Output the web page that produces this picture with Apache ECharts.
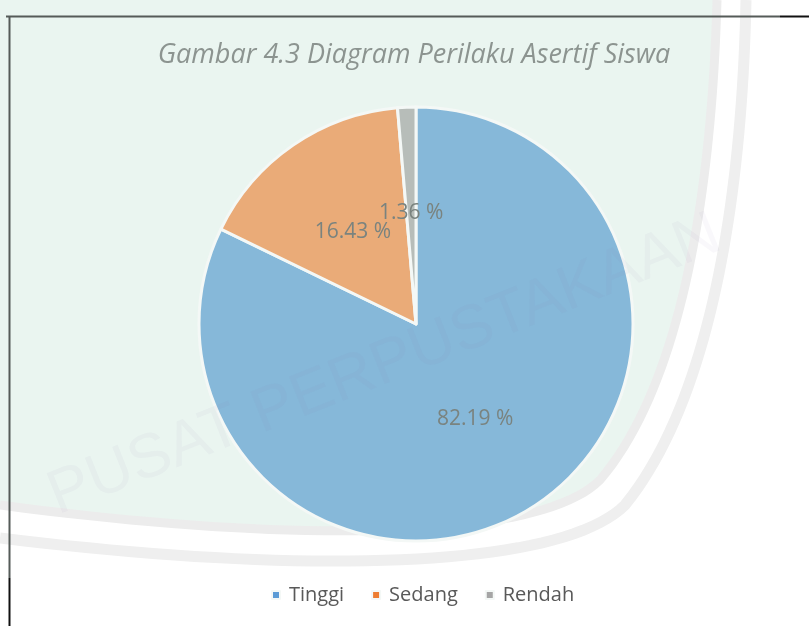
<!DOCTYPE html>
<html>
<head>
<meta charset="utf-8">
<script src="https://cdn.jsdelivr.net/npm/echarts@6/dist/echarts.min.js"></script>
<style>html,body{margin:0;padding:0;background:#fff;}#c{width:809px;height:626px;}</style>
</head>
<body>
<div id="c"></div>
<script>
const categories = ['Tinggi', 'Sedang', 'Rendah'];
const values = [82.19, 16.43, 1.36];
const colors = ['#86b8d9', '#eaab78', '#b7bdb9'];
const legendColors = ['#5b9bd5', '#ed7d31', '#a5a5a5'];
const titleText = 'Gambar 4.3 Diagram Perilaku Asertif Siswa';

// watermark background shape helpers
function cubic(p0, p1, p2, p3, n) {
  const pts = [];
  for (let i = 0; i <= n; i++) {
    const t = i / n, u = 1 - t;
    pts.push([
      u*u*u*p0[0] + 3*u*u*t*p1[0] + 3*u*t*t*p2[0] + t*t*t*p3[0],
      u*u*u*p0[1] + 3*u*u*t*p1[1] + 3*u*t*t*p2[1] + t*t*t*p3[1]
    ]);
  }
  return pts;
}
function curve(a) {
  return cubic(a[0], a[1], a[2], a[3], 40).concat(cubic(a[3], a[4], a[5], a[6], 40).slice(1));
}
const innerEdge = curve([[717,0],[712,180],[685,380],[600,480],[540,540],[300,545],[0,505]]);
const outerEdge = curve([[746,0],[742,200],[710,400],[625,505],[560,570],[300,575],[0,538]]);

const chart = echarts.init(document.getElementById('c'), null, {renderer: 'canvas'});
chart.setOption({
  backgroundColor: '#ffffff',
  animation: false,
  title: {
    text: titleText,
    left: 409, top: 37, textAlign: 'center',
    textStyle: {fontFamily: 'Open Sans', fontStyle: 'italic', fontWeight: 'normal', fontSize: 27, color: '#8c9490'}
  },
  legend: {
    top: 580, left: 266,
    icon: 'rect', itemWidth: 8, itemHeight: 8, itemGap: 27,
    textStyle: {fontFamily: 'Open Sans', fontSize: 20, color: '#595959', padding: [0,0,0,4]},
    data: categories.map((c, i) => ({name: c, itemStyle: {color: legendColors[i]}}))
  },
  graphic: [
    {type: 'polygon', z: -10, silent: true,
     shape: {points: [[0,0]].concat(innerEdge)},
     style: {fill: '#eaf5f0'}},
    {type: 'polyline', z: -9, silent: true,
     shape: {points: innerEdge},
     style: {fill: null, stroke: '#ececec', lineWidth: 9}},
    {type: 'polyline', z: -9, silent: true,
     shape: {points: outerEdge},
     style: {fill: null, stroke: '#efefef', lineWidth: 11}},
    {type: 'line', z: 100, shape: {x1: 6, y1: 16.5, x2: 780, y2: 16.5}, style: {stroke: '#555b58', lineWidth: 2}, silent: true},
    {type: 'line', z: 100, shape: {x1: 780, y1: 16.5, x2: 809, y2: 16.5}, style: {stroke: '#111111', lineWidth: 2}, silent: true},
    {type: 'line', z: 100, shape: {x1: 9.5, y1: 16, x2: 9.5, y2: 578}, style: {stroke: '#555b58', lineWidth: 2}, silent: true},
    {type: 'line', z: 100, shape: {x1: 9.5, y1: 578, x2: 9.5, y2: 626}, style: {stroke: '#111111', lineWidth: 2}, silent: true},
    {type: 'text', z: 50, x: 40, y: 470, rotation: 0.38, silent: true,
     style: {text: 'PUSAT PERPUSTAKAAN', fontFamily: 'Liberation Sans', fontSize: 62, fill: 'rgba(140,110,170,0.05)'}}
  ],
  series: [{
    type: 'pie',
    center: [416, 324],
    radius: [0, 217],
    startAngle: 90,
    clockwise: true,
    avoidLabelOverlap: false,
    labelLayout: {hideOverlap: false},
    data: categories.map((c, i) => ({name: c, value: values[i], itemStyle: {color: colors[i]}})),
    itemStyle: {borderColor: '#f4f8f6', borderWidth: 3},
    label: {
      show: true, position: 'inside',
      formatter: p => p.value.toFixed(2) + ' %',
      fontFamily: 'Open Sans', fontSize: 21, color: '#7a837f'
    },
    labelLine: {show: false},
    emphasis: {disabled: true}
  }]
});
</script>
</body>
</html>
